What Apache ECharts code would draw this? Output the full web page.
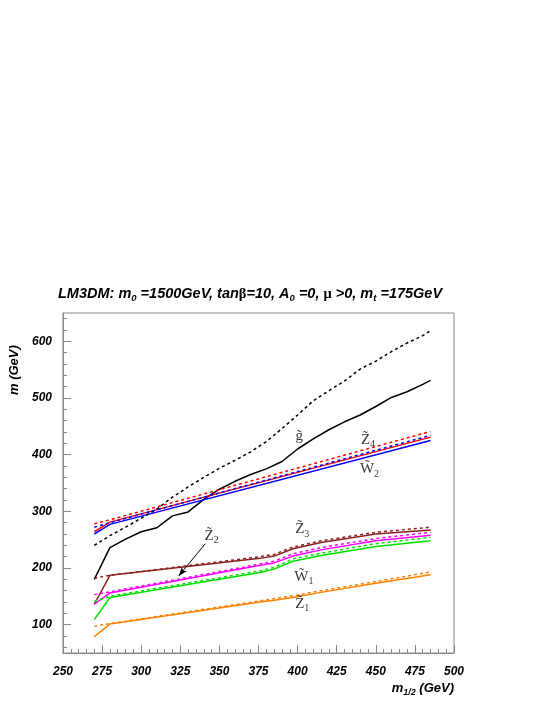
<!DOCTYPE html>
<html><head><meta charset="utf-8">
<script src="https://cdn.jsdelivr.net/npm/echarts@6/dist/echarts.min.js"></script>
<style>html,body{margin:0;padding:0;background:#fff}#c{width:545px;height:705px}</style>
</head><body><div id="c"></div>
<script>
// ---- data (GeV) ----
const gluinoX      = [270,280,290,300,310,320,330,340,350,360,370,380,390,400,410,420,430,440,450,460,470,480,485];
const gluinoSolid  = [180,236,251,264,271,292,299,321,339,353,365,375,388,410,428,444,458,470,485,501,511,524,531];
const gluinoDashed = [240,257,272,288,304,325,343,360,376,390,405,423,446,470,495,513,530,551,565,582,597,610,619];

const heavyX   = [270,280,485];
const z4Solid  = [264,281,431];
const z4Dashed = [278,285,441];
const w2Solid  = [260,277,425];
const w2Dashed = [272,280,434];

const lowX     = [270,280,376,385,397,415,450,485];
const z3Solid  = [136,187,217,221,234,245,260,267];
const z3Dashed = [182,187,220,224,237,248,263,272];
const z2Solid  = [136,156,205,209,221,232,248,258];
const z2Dashed = [153,158,207,212,225,236,252,263];
const w1Solid  = [109,148,192,198,212,222,238,248];
const w1Dashed = [141,150,195,201,216,226,243,254];
const z1Solid  = [79,101,140,143,148,157,173,188];
const z1Dashed = [97,102,142,146,151,160,176,193];

const yMajor = [100,200,300,400,500,600];
const yMinor = [60,80,120,140,160,180,220,240,260,280,320,340,360,380,420,440,460,480,520,540,560,580,620,640];

// annotation labels: [name, subscript, x, y]
const labels = [
  ['g', '', 401, 432],
  ['Z', '4', 445, 426],
  ['W', '2', 446, 374],
  ['Z', '2', 345, 257],
  ['Z', '3', 403, 268],
  ['W', '1', 404, 184],
  ['Z', '1', 403, 136]
];
const arrowFrom = [341, 243];
const arrowTo   = [324, 186];

const zip = (xs, ys) => xs.map((x, i) => [x, ys[i]]);
const dash = [3, 3];
function line(xs, ys, color, dashed, extra) {
  return Object.assign({
    type: 'line', data: zip(xs, ys), showSymbol: false, symbol: 'none', silent: true,
    lineStyle: { color: color, width: 1.5, type: dashed ? dash : 'solid' },
    z: dashed ? 3 : 2, animation: false
  }, extra || {});
}

const sansB = 'Liberation Sans, Arial, sans-serif';
const serif = 'Liberation Serif, Times New Roman, serif';

const chart = echarts.init(document.getElementById('c'), null, { renderer: 'canvas' });
chart.setOption({
  backgroundColor: '#fff',
  animation: false,
  title: {
    left: 53, top: 280,
    text: '{b|LM3DM: m}{s|0}{b| =1500GeV, tan}{g|β}{b|=10, A}{s|0}{b| =0, }{g|μ}{b| >0, m}{s|t}{b| =175GeV}',
    textStyle: {
      rich: {
        b: { fontFamily: sansB, fontWeight: 'bold', fontStyle: 'italic', fontSize: 14.5, color: '#000' },
        s: { fontFamily: sansB, fontWeight: 'bold', fontStyle: 'italic', fontSize: 9.5, color: '#000', padding: [8, 0, 0, 0] },
        g: { fontFamily: serif, fontSize: 14.5, color: '#000' }
      }
    }
  },
  grid: { left: 63, top: 313, right: 91, bottom: 52, show: true, borderColor: '#888', borderWidth: 1, backgroundColor: 'transparent' },
  xAxis: {
    type: 'value', min: 250, max: 500, interval: 25,
    axisLine: { show: true, lineStyle: { color: '#888' } },
    axisTick: { show: true, inside: true, length: 8, lineStyle: { color: '#888' } },
    minorTick: { show: true, splitNumber: 5, length: 4, lineStyle: { color: '#888' } },
    splitLine: { show: false },
    axisLabel: { margin: 13, fontFamily: sansB, fontWeight: 'bold', fontStyle: 'italic', fontSize: 12, color: '#000' }
  },
  yAxis: [{
    type: 'value', min: 50, max: 650,
    axisLine: { show: true, lineStyle: { color: '#888' } },
    axisTick: { show: true, inside: true, length: 8, customValues: yMajor, lineStyle: { color: '#888' } },
    splitLine: { show: false },
    axisLabel: { customValues: yMajor, margin: 11, fontFamily: sansB, fontWeight: 'bold', fontStyle: 'italic', fontSize: 12, color: '#000' }
  }, {
    type: 'value', min: 50, max: 650, position: 'left',
    axisLine: { show: false },
    axisTick: { show: true, inside: true, length: 4, customValues: yMinor, lineStyle: { color: '#888' } },
    splitLine: { show: false },
    axisLabel: { show: false }
  }],
  graphic: [
    { type: 'text', right: 91, top: 682,
      style: { text: '{b|m}{s|1/2}{b| (GeV)}', rich: {
        b: { fontFamily: sansB, fontWeight: 'bold', fontStyle: 'italic', fontSize: 13, fill: '#000' },
        s: { fontFamily: sansB, fontWeight: 'bold', fontStyle: 'italic', fontSize: 9, fill: '#000', padding: [8, 0, 0, 0] } } } },
    { type: 'text', x: 14, y: 395, rotation: Math.PI / 2,
      style: { text: 'm (GeV)', fontFamily: sansB, fontWeight: 'bold', fontStyle: 'italic', fontSize: 13, fill: '#000', align: 'left', verticalAlign: 'middle' } }
  ],
  series: [
    line(gluinoX, gluinoDashed, '#000', true),
    line(gluinoX, gluinoSolid, '#000', false),
    line(heavyX, z4Dashed, '#ff0000', true),
    line(heavyX, w2Dashed, '#0000ff', true),
    line(heavyX, z4Solid, '#ff0000', false),
    line(heavyX, w2Solid, '#0000ff', false),
    line(lowX, z3Dashed, '#8b2020', true),
    line(lowX, z3Solid, '#8b2020', false),
    line(lowX, z2Dashed, '#ff00ff', true),
    line(lowX, z2Solid, '#ff00ff', false, {
      markLine: {
        silent: true, symbol: ['none', 'arrow'], symbolSize: [5, 9],
        label: { show: false },
        lineStyle: { color: '#000', width: 1, type: 'solid' },
        data: [[{ coord: arrowFrom }, { coord: arrowTo }]]
      }
    }),
    line(lowX, w1Dashed, '#00e000', true),
    line(lowX, w1Solid, '#00e000', false),
    line(lowX, z1Dashed, '#ff8000', true),
    line(lowX, z1Solid, '#ff8000', false),
    {
      type: 'scatter', symbolSize: 0, silent: true, z: 10,
      data: labels.map(l => ({ value: [l[2], l[3]], name: l[0], sub: l[1] })),
      label: {
        show: true, position: 'inside',
        formatter: p => '{m|' + p.data.name + '\u0303}' + (p.data.sub ? '{s|' + p.data.sub + '}' : ''),
        rich: {
          m: { fontFamily: serif, fontSize: 15, color: '#000' },
          s: { fontFamily: serif, fontSize: 10, color: '#000', padding: [9, 0, 0, 0] }
        }
      }
    }
  ]
});
</script></body></html>
